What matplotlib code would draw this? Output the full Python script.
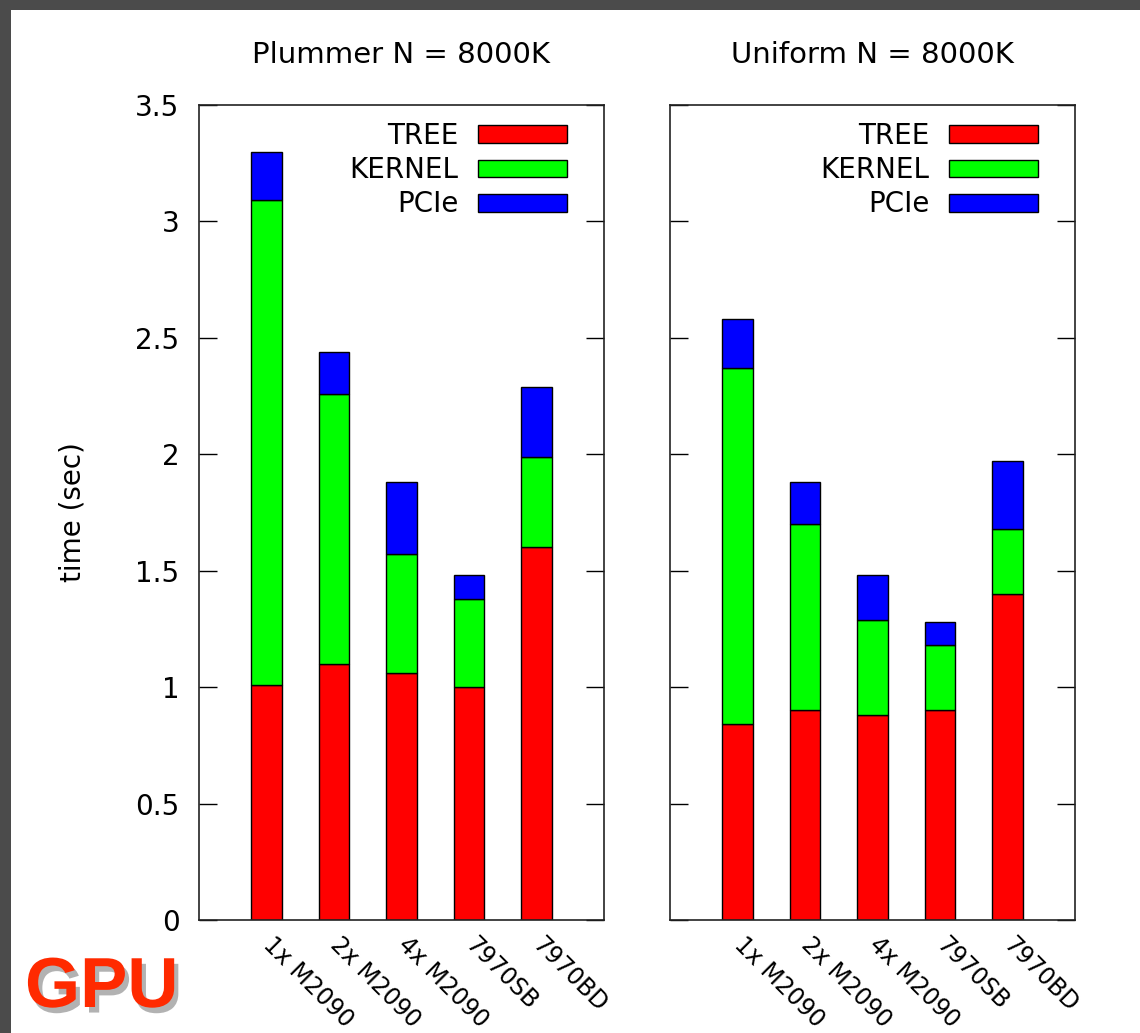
import matplotlib
matplotlib.use("Agg")
import matplotlib.pyplot as plt
import matplotlib.patches as mpatches
import matplotlib.patheffects as pe
import numpy as np

categories = ["1x M2090", "2x M2090", "4x M2090", "7970SB", "7970BD"]
series_names = ["TREE", "KERNEL", "PCIe"]
series_colors = ["#ff0000", "#00ff00", "#0000ff"]

plummer_tree = [1.01, 1.10, 1.06, 1.00, 1.60]
plummer_kernel = [2.08, 1.16, 0.51, 0.38, 0.39]
plummer_pcie = [0.21, 0.18, 0.31, 0.10, 0.30]

uniform_tree = [0.84, 0.90, 0.88, 0.90, 1.40]
uniform_kernel = [1.53, 0.80, 0.41, 0.28, 0.28]
uniform_pcie = [0.21, 0.18, 0.19, 0.10, 0.29]

titles = ["Plummer N = 8000K", "Uniform N = 8000K"]
yticks = [0, 0.5, 1, 1.5, 2, 2.5, 3, 3.5]
ytick_labels = ["0", "0.5", "1", "1.5", "2", "2.5", "3", "3.5"]

W, H = 1140, 1033
fig = plt.figure(figsize=(W / 100, H / 100), dpi=100)
fig.patch.set_facecolor("#4b4b4b")
fig.patches.append(mpatches.Rectangle((11 / W, 0), 1 - 11 / W, 1 - 10 / H,
                                      transform=fig.transFigure,
                                      facecolor="white", edgecolor="none", zorder=-10))

FS = 20
ax_bottom = (H - 920) / H
ax_height = (920 - 105) / H
ax_w = 405 / W
lefts = [199 / W, 670 / W]
data = [(plummer_tree, plummer_kernel, plummer_pcie),
        (uniform_tree, uniform_kernel, uniform_pcie)]

for i in range(2):
    ax = fig.add_axes([lefts[i], ax_bottom, ax_w, ax_height], zorder=1)
    x = np.arange(len(categories))
    bottom = np.zeros(len(categories))
    for vals, name, col in zip(data[i], series_names, series_colors):
        ax.bar(x, vals, width=0.45, bottom=bottom, color=col,
               edgecolor="black", linewidth=1.0, label=name, zorder=2)
        bottom = bottom + np.array(vals)
    ax.set_xlim(-1, 5)
    ax.set_ylim(0, 3.5)
    ax.set_title(titles[i], fontsize=21, pad=30)
    ax.set_yticks(yticks)
    if i == 0:
        ax.set_yticklabels(ytick_labels, fontsize=FS)
        ax.set_ylabel("time (sec)", fontsize=FS, labelpad=35)
    else:
        ax.set_yticklabels([])
    ax.tick_params(axis="y", direction="in", length=13, width=1.0,
                   left=True, right=True, pad=14)
    ax.set_xticks(x)
    ax.set_xticklabels(categories, fontsize=17, rotation=-45,
                       ha="left", va="center", rotation_mode="anchor")
    ax.tick_params(axis="x", length=0, pad=15)
    for s in ax.spines.values():
        s.set_linewidth(1.2)
        s.set_color("#222222")
    ax.legend(loc="upper right", bbox_to_anchor=(1 - 37 / 405, 1 - 17 / 815),
              frameon=False, fontsize=FS, markerfirst=False,
              handlelength=3.2, handleheight=0.61, handletextpad=0.7,
              labelspacing=0.225, borderpad=0, borderaxespad=0)

fig.text(25 / W, 1 - 1007 / H, "GPU", fontsize=51, fontweight="bold",
         family="Liberation Sans", color="#ff2a00", ha="left", va="baseline",
         zorder=5,
         path_effects=[pe.withSimplePatchShadow(offset=(3, -4), shadow_rgbFace="black",
                                                alpha=0.3)])

fig.savefig("out.png", dpi=100, facecolor=fig.get_facecolor())
